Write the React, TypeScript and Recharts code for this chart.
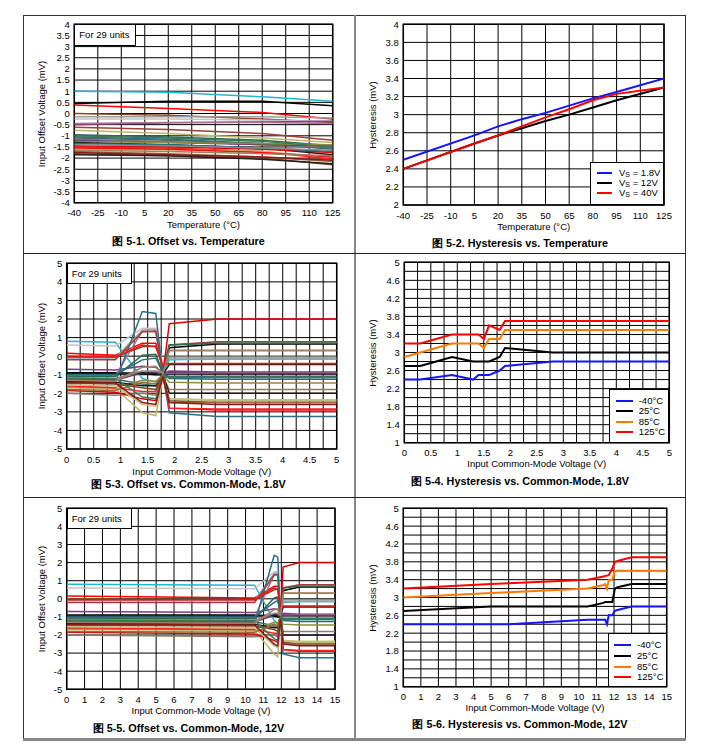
import React from 'react';
import { LineChart, Line, XAxis, YAxis, CartesianGrid, ReferenceArea } from 'recharts';

const FONT = '"Liberation Sans", Arial, Helvetica, sans-serif';

// x points for the 29-unit offset curves
const tempX = [-40, 20, 80, 125];
const cm18X = [0, 0.9, 1.4, 1.65, 1.78, 1.9, 2.8, 5];
const cm12X = [0, 10.5, 11.6, 11.8, 11.95, 12.1, 13, 15];

const unitColors = [
  '#20B8D0', '#000000', '#FF0000', '#8B4A1C', '#9E9E9E', '#C4C4C4', '#7E3B7E', '#B07090',
  '#A0403A', '#BDB76B', '#2E6B4E', '#2A6F8A', '#3D6B6B', '#8C7B6B', '#6B3F6B', '#8C8C3C',
  '#1A1A1A', '#E00000', '#FF2020', '#C8C080', '#7A4A20', '#202020', '#1F6F7F', '#8A8A8A',
  '#F01010', '#9B6A3A', '#3A7A5A', '#8B1A1A', '#A08060',
];

// offset (mV) at tempX, one row per unit
const offsetTemp = [
  [1.0, 0.95, 0.75, 0.55],
  [0.45, 0.55, 0.55, 0.35],
  [0.38, 0.22, 0.05, -0.25],
  [0.0, -0.08, -0.25, -0.4],
  [-0.15, -0.15, -0.15, -0.2],
  [-0.25, -0.25, -0.3, -0.35],
  [-0.5, -0.42, -0.38, -0.35],
  [-0.45, -0.4, -0.4, -0.45],
  [-0.62, -0.72, -0.9, -1.2],
  [-0.75, -0.9, -1.1, -1.3],
  [-0.95, -1.05, -1.2, -1.45],
  [-1.05, -1.15, -1.35, -1.55],
  [-1.1, -1.2, -1.35, -1.6],
  [-1.15, -1.25, -1.4, -1.5],
  [-1.2, -1.3, -1.4, -1.45],
  [-1.25, -1.3, -1.35, -1.4],
  [-1.3, -1.4, -1.55, -1.85],
  [-1.45, -1.5, -1.6, -1.75],
  [-1.5, -1.55, -1.7, -2.05],
  [-1.6, -1.62, -1.7, -1.95],
  [-1.8, -1.9, -2.0, -2.3],
  [-1.85, -1.9, -2.05, -2.25],
  [-1.35, -1.4, -1.55, -1.7],
  [-1.4, -1.45, -1.55, -1.65],
  [-1.55, -1.6, -1.75, -1.95],
  [-1.7, -1.8, -1.95, -2.15],
  [-1.0, -1.1, -1.25, -1.5],
  [-1.75, -1.85, -1.95, -2.1],
  [-1.65, -1.7, -1.8, -1.9],
];

// offset (mV) across the common-mode sweep (cm18X / cm12X), one row per unit
const offsetCm = [
  [0.8, 0.75, -1.2, -1.4, -1.0, -0.2, -0.15, -0.15],
  [-0.9, -0.9, -0.95, -1.0, -1.0, 0.45, 0.65, 0.65],
  [0.15, 0.05, 0.7, 0.7, -0.6, -2.8, -2.9, -2.9],
  [0.0, -0.05, 0.5, 0.55, -0.6, 0.3, 0.3, 0.3],
  [-0.1, -0.1, 1.4, 1.45, -0.7, -0.15, -0.15, -0.15],
  [0.6, 0.55, 1.5, 1.5, -0.5, 0.6, 0.75, 0.75],
  [-0.7, -0.75, -0.55, -0.6, -0.9, -0.8, -0.85, -0.85],
  [-1.05, -1.05, 1.35, 1.3, -0.8, -0.9, -0.9, -0.9],
  [-0.2, -0.2, 1.3, 1.35, -0.9, 0.6, 0.78, 0.78],
  [-1.7, -1.75, -3.05, -3.2, -1.2, -2.3, -2.4, -2.4],
  [-1.1, -1.1, 0.05, 0.1, -0.9, 0.6, 0.7, 0.7],
  [-1.5, -1.4, 2.4, 2.3, -1.0, -3.05, -3.25, -3.25],
  [-1.25, -1.25, -1.5, -1.6, -1.0, -1.1, -1.1, -1.1],
  [-2.0, -2.1, -2.0, -2.1, -1.1, -1.8, -1.8, -1.8],
  [-1.3, -1.3, -0.9, -0.85, -0.95, -0.9, -0.92, -0.92],
  [-1.65, -1.7, -1.3, -1.35, -1.0, -1.4, -1.45, -1.45],
  [-1.35, -1.4, -1.6, -1.6, -1.0, -2.0, -2.0, -2.0],
  [-1.85, -1.95, -2.3, -2.4, -1.0, 1.75, 2.0, 2.0],
  [-1.6, -1.7, -1.9, -1.9, -1.0, -2.8, -2.85, -2.85],
  [-1.55, -1.6, -2.6, -2.7, -1.1, -2.3, -2.35, -2.35],
  [-1.45, -1.5, -1.7, -1.8, -1.0, -2.4, -2.5, -2.5],
  [-0.95, -0.95, -0.9, -0.95, -1.0, -0.45, -0.45, -0.45],
  [-1.0, -1.0, -0.2, -0.1, -0.9, -1.2, -1.25, -1.25],
  [-1.15, -1.2, -0.8, -0.8, -0.9, -0.05, -0.05, -0.05],
  [-0.05, -0.05, 0.6, 0.5, -0.5, -0.4, -0.4, -0.4],
  [-1.8, -1.85, -1.4, -1.5, -1.0, -2.5, -2.5, -2.5],
  [-1.2, -1.2, -2.2, -2.3, -1.1, -1.15, -1.15, -1.15],
  [-1.4, -1.45, -2.5, -2.6, -1.1, -2.5, -2.6, -2.6],
  [-1.3, -1.35, -0.6, -0.55, -0.95, 0.3, 0.3, 0.3],
];

// hysteresis vs temperature
const hystTempX = [-40, 5, 20, 35, 50, 65, 80, 95, 125];
const hystTempVs18 = [2.5, 2.77, 2.87, 2.95, 3.02, 3.1, 3.18, 3.25, 3.4];
const hystTempVs12 = [2.4, 2.68, 2.77, 2.85, 2.93, 3.0, 3.08, 3.16, 3.3];
const hystTempVs40 = [2.4, 2.68, 2.77, 2.87, 2.97, 3.06, 3.16, 3.23, 3.3];

// hysteresis vs common mode, 1.8V
const hyst18X = [0, 0.3, 0.9, 1.3, 1.4, 1.5, 1.6, 1.8, 1.9, 2.8, 5];
const hyst18M40 = [2.4, 2.4, 2.5, 2.4, 2.5, 2.5, 2.5, 2.6, 2.7, 2.8, 2.8];
const hyst18T25 = [2.7, 2.7, 2.9, 2.8, 2.8, 2.8, 2.8, 2.9, 3.1, 3.0, 3.0];
const hyst18T85 = [2.9, 3.0, 3.2, 3.2, 3.2, 3.1, 3.3, 3.3, 3.5, 3.5, 3.5];
const hyst18T125 = [3.2, 3.2, 3.4, 3.4, 3.4, 3.3, 3.6, 3.5, 3.7, 3.7, 3.7];

// hysteresis vs common mode, 12V
const hyst12X = [0, 5, 6, 10.5, 11.4, 11.5, 11.6, 11.7, 11.9, 12.05, 12.2, 13, 15];
const hyst12M40 = [2.4, 2.4, 2.4, 2.5, 2.5, 2.5, 2.4, 2.6, 2.6, 2.7, 2.72, 2.8, 2.8];
const hyst12T25 = [2.7, 2.8, 2.8, 2.8, 2.88, 2.9, 2.9, 2.9, 2.9, 3.2, 3.23, 3.3, 3.3];
const hyst12T85 = [3.0, 3.1, 3.12, 3.2, 3.28, 3.3, 3.2, 3.4, 3.4, 3.6, 3.6, 3.6, 3.6];
const hyst12T125 = [3.2, 3.3, 3.32, 3.4, 3.47, 3.48, 3.49, 3.5, 3.65, 3.8, 3.82, 3.9, 3.9];

// axis ticks
const tempTicks = [-40, -25, -10, 5, 20, 35, 50, 65, 80, 95, 110, 125];
const offTempTicks = [-4, -3.5, -3, -2.5, -2, -1.5, -1, -0.5, 0, 0.5, 1, 1.5, 2, 2.5, 3, 3.5, 4];
const hystTempTicks = [2, 2.2, 2.4, 2.6, 2.8, 3, 3.2, 3.4, 3.6, 3.8, 4];
const offCmTicks = [-5, -4, -3, -2, -1, 0, 1, 2, 3, 4, 5];
const cm18Ticks = [0, 0.25, 0.5, 0.75, 1, 1.25, 1.5, 1.75, 2, 2.25, 2.5, 2.75, 3, 3.25, 3.5, 3.75, 4, 4.25, 4.5, 4.75, 5];
const cm18Labels = [0, 0.5, 1, 1.5, 2, 2.5, 3, 3.5, 4, 4.5, 5];
const cm12Ticks = [0, 1, 2, 3, 4, 5, 6, 7, 8, 9, 10, 11, 12, 13, 14, 15];
const hystCmTicks = [1, 1.2, 1.4, 1.6, 1.8, 2, 2.2, 2.4, 2.6, 2.8, 3, 3.2, 3.4, 3.6, 3.8, 4, 4.2, 4.4, 4.6, 4.8, 5];
const hystCmLabels = [1, 1.4, 1.8, 2.2, 2.6, 3, 3.4, 3.8, 4.2, 4.6, 5];

const BLUE = '#1414FF';
const ORANGE = '#FF7A00';
const RED = '#FF0000';
const BLACK = '#000000';

const FS = 9.5;

type Pt = { x: number; y: number };
type Series = { name: string; color: string; width: number; data: Pt[] };

const pts = (xs: number[], ys: number[]): Pt[] => xs.map((x, i) => ({ x, y: ys[i] }));

const unitSeries = (xs: number[], rows: number[][]): Series[] =>
  rows.map((r, i) => ({ name: `u${i}`, color: unitColors[i], width: 1.5, data: pts(xs, r) }));

const fmt = (labeled?: number[]) => (v: number) => (!labeled || labeled.includes(v) ? String(v) : '');

interface PlotProps {
  cell: number[]; // left, top, width, height (page px)
  plot: number[]; // left, top, right, bottom (page px)
  xDomain: number[];
  xTicks: number[];
  xLabeled?: number[];
  yDomain: number[];
  yTicks: number[];
  yLabeled?: number[];
  series: Series[];
}

function Plot({ cell, plot, xDomain, xTicks, xLabeled, yDomain, yTicks, yLabeled, series }: PlotProps) {
  const [cl, ct, cw, ch] = cell;
  const [pl, pt, pr, pb] = plot;
  const YW = 40;
  const XH = 20;
  const margin = { left: pl - cl - YW, top: pt - ct, right: cl + cw - pr, bottom: ct + ch - pb - XH };
  const tick = { fontSize: FS, fill: '#000', fontFamily: FONT };
  return (
    <div style={{ position: 'absolute', left: cl, top: ct }}>
      <LineChart width={cw} height={ch} margin={margin}>
        <CartesianGrid stroke="#000" strokeWidth={1} />
        <XAxis
          type="number"
          dataKey="x"
          domain={xDomain}
          ticks={xTicks}
          interval={0}
          allowDataOverflow
          tickLine={false}
          axisLine={false}
          height={XH}
          tickSize={5}
          tick={tick}
          tickFormatter={fmt(xLabeled)}
        />
        <YAxis
          type="number"
          domain={yDomain}
          ticks={yTicks}
          interval={0}
          allowDataOverflow
          tickLine={false}
          axisLine={false}
          width={YW}
          tickSize={2}
          tickMargin={2.5}
          tick={tick}
          tickFormatter={fmt(yLabeled)}
        />
        {series.map((s) => (
          <Line
            key={s.name}
            data={s.data}
            dataKey="y"
            type="linear"
            stroke={s.color}
            strokeWidth={s.width}
            dot={false}
            activeDot={false}
            isAnimationActive={false}
          />
        ))}
        <ReferenceArea
          x1={xDomain[0]}
          x2={xDomain[1]}
          y1={yDomain[0]}
          y2={yDomain[1]}
          fill="none"
          stroke="#000"
          strokeWidth={1.5}
        />
      </LineChart>
    </div>
  );
}

function Txt({ x, y, children, size = FS, bold = false, rotate = false }: any) {
  return (
    <div
      style={{
        position: 'absolute',
        left: x,
        top: y,
        transform: `translate(-50%, -50%)${rotate ? ' rotate(-90deg)' : ''}`,
        whiteSpace: 'nowrap',
        fontSize: size,
        fontWeight: bold ? 700 : 400,
        lineHeight: 1,
        color: '#000',
      }}
    >
      {children}
    </div>
  );
}

function UnitsBox({ l, t, r, b }: { l: number; t: number; r: number; b: number }) {
  return (
    <div
      style={{
        position: 'absolute',
        left: l,
        top: t,
        width: r - l,
        height: b - t,
        boxSizing: 'border-box',
        border: '1.5px solid #000',
        background: '#fff',
        fontSize: FS,
        paddingLeft: 4,
        display: 'flex',
        alignItems: 'center',
      }}
    >
      For 29 units
    </div>
  );
}

interface LegendProps {
  box: number[];
  rows: number[];
  lineX: number[];
  textX: number;
  items: { label: React.ReactNode; color: string }[];
}

function LegendBox({ box, rows, lineX, textX, items }: LegendProps) {
  const [l, t, r, b] = box;
  return (
    <div
      style={{
        position: 'absolute',
        left: l,
        top: t,
        width: r - l,
        height: b - t,
        boxSizing: 'border-box',
        border: '1.5px solid #000',
        background: '#fff',
      }}
    >
      {items.map((it, i) => (
        <React.Fragment key={i}>
          <div
            style={{
              position: 'absolute',
              left: lineX[0] - l,
              top: rows[i] - t - 1,
              width: lineX[1] - lineX[0],
              height: 2,
              background: it.color,
            }}
          />
          <div
            style={{
              position: 'absolute',
              left: textX - l,
              top: rows[i] - t,
              transform: 'translateY(-50%)',
              fontSize: FS,
              lineHeight: 1,
              whiteSpace: 'nowrap',
            }}
          >
            {it.label}
          </div>
        </React.Fragment>
      ))}
    </div>
  );
}

const vs = (v: string) => (
  <span>
    V<span style={{ fontSize: 7, position: 'relative', top: 1 }}>S</span> = {v}
  </span>
);

const tempItems = [
  { label: '-40°C', color: BLUE },
  { label: '25°C', color: BLACK },
  { label: '85°C', color: ORANGE },
  { label: '125°C', color: RED },
];

export default function App() {
  const line = (l: number, t: number, w: number, h: number, c: string) => (
    <div style={{ position: 'absolute', left: l, top: t, width: w, height: h, background: c }} />
  );
  return (
    <div
      style={{
        position: 'absolute',
        left: 0,
        top: 0,
        width: 704,
        height: 755,
        background: '#fff',
        fontFamily: FONT,
        overflow: 'hidden',
      }}
    >
      {/* frame */}
      {line(23, 15, 663, 1, '#333')}
      {line(23, 15, 1, 724, '#333')}
      {line(685, 15, 1, 724, '#333')}
      {line(353.5, 15, 2, 724, '#888')}
      {line(23, 253, 663, 1, '#222')}
      {line(23, 497, 663, 1, '#222')}
      {line(23, 738, 663, 3, '#888')}

      {/* 5-1 offset vs temperature */}
      <Plot
        cell={[23, 15, 331, 238]}
        plot={[74.3, 24.3, 332.7, 202.7]}
        xDomain={[-40, 125]}
        xTicks={tempTicks}
        yDomain={[-4, 4]}
        yTicks={offTempTicks}
        series={unitSeries(tempX, offsetTemp)}
      />
      <UnitsBox l={74.3} t={24.3} r={136} b={45.7} />
      <Txt x={203.5} y={225}>Temperature (°C)</Txt>
      <Txt x={41.7} y={113.5} rotate>Input Offset Voltage (mV)</Txt>
      <Txt x={188.5} y={240.7} size={10.8} bold>图 5-1. Offset vs. Temperature</Txt>

      {/* 5-2 hysteresis vs temperature */}
      <Plot
        cell={[354, 15, 332, 238]}
        plot={[403.3, 24.3, 664, 205]}
        xDomain={[-40, 125]}
        xTicks={tempTicks}
        yDomain={[2, 4]}
        yTicks={hystTempTicks}
        series={[
          { name: 'vs18', color: BLUE, width: 2, data: pts(hystTempX, hystTempVs18) },
          { name: 'vs12', color: BLACK, width: 2, data: pts(hystTempX, hystTempVs12) },
          { name: 'vs40', color: RED, width: 2, data: pts(hystTempX, hystTempVs40) },
        ]}
      />
      <LegendBox
        box={[590, 161.7, 664, 205]}
        rows={[171.7, 182, 192.3]}
        lineX={[596, 610.7]}
        textX={618}
        items={[
          { label: vs('1.8V'), color: BLUE },
          { label: vs('12V'), color: BLACK },
          { label: vs('40V'), color: RED },
        ]}
      />
      <Txt x={533.7} y={226.5}>Temperature (°C)</Txt>
      <Txt x={373.3} y={114.7} rotate>Hysteresis (mV)</Txt>
      <Txt x={520} y={242.7} size={10.8} bold>图 5-2. Hysteresis vs. Temperature</Txt>

      {/* 5-3 offset vs common mode, 1.8V */}
      <Plot
        cell={[23, 253, 331, 244]}
        plot={[66.7, 263.3, 336.7, 449]}
        xDomain={[0, 5]}
        xTicks={cm18Ticks}
        xLabeled={cm18Labels}
        yDomain={[-5, 5]}
        yTicks={offCmTicks}
        series={unitSeries(cm18X, offsetCm)}
      />
      <UnitsBox l={66.7} t={263.3} r={131.7} b={284.3} />
      <Txt x={201.7} y={471.7}>Input Common-Mode Voltage (V)</Txt>
      <Txt x={41.7} y={356} rotate>Input Offset Voltage (mV)</Txt>
      <Txt x={188.5} y={484.3} size={10.8} bold>图 5-3. Offset vs. Common-Mode, 1.8V</Txt>

      {/* 5-4 hysteresis vs common mode, 1.8V */}
      <Plot
        cell={[354, 253, 332, 244]}
        plot={[404.3, 262.3, 669.3, 442.7]}
        xDomain={[0, 5]}
        xTicks={cm18Ticks}
        xLabeled={cm18Labels}
        yDomain={[1, 5]}
        yTicks={hystCmTicks}
        yLabeled={hystCmLabels}
        series={[
          { name: 'm40', color: BLUE, width: 2, data: pts(hyst18X, hyst18M40) },
          { name: 't25', color: BLACK, width: 2, data: pts(hyst18X, hyst18T25) },
          { name: 't85', color: ORANGE, width: 2, data: pts(hyst18X, hyst18T85) },
          { name: 't125', color: RED, width: 2, data: pts(hyst18X, hyst18T125) },
        ]}
      />
      <LegendBox
        box={[609.3, 389, 669.3, 442.7]}
        rows={[399.7, 410.3, 420.7, 431]}
        lineX={[615, 631.7]}
        textX={637.7}
        items={tempItems}
      />
      <Txt x={536.8} y={464.3}>Input Common-Mode Voltage (V)</Txt>
      <Txt x={373.3} y={352.5} rotate>Hysteresis (mV)</Txt>
      <Txt x={520} y={481} size={10.8} bold>图 5-4. Hysteresis vs. Common-Mode, 1.8V</Txt>

      {/* 5-5 offset vs common mode, 12V */}
      <Plot
        cell={[23, 497, 331, 241]}
        plot={[66.7, 508.3, 335, 689.3]}
        xDomain={[0, 15]}
        xTicks={cm12Ticks}
        yDomain={[-5, 5]}
        yTicks={offCmTicks}
        series={unitSeries(cm12X, offsetCm)}
      />
      <UnitsBox l={66.7} t={508.3} r={131.7} b={529.3} />
      <Txt x={201} y={710.7}>Input Common-Mode Voltage (V)</Txt>
      <Txt x={41.7} y={599} rotate>Input Offset Voltage (mV)</Txt>
      <Txt x={188.5} y={727.7} size={10.8} bold>图 5-5. Offset vs. Common-Mode, 12V</Txt>

      {/* 5-6 hysteresis vs common mode, 12V */}
      <Plot
        cell={[354, 497, 332, 241]}
        plot={[403.3, 508.3, 666.7, 686.7]}
        xDomain={[0, 15]}
        xTicks={cm12Ticks}
        yDomain={[1, 5]}
        yTicks={hystCmTicks}
        yLabeled={hystCmLabels}
        series={[
          { name: 'm40', color: BLUE, width: 2, data: pts(hyst12X, hyst12M40) },
          { name: 't25', color: BLACK, width: 2, data: pts(hyst12X, hyst12T25) },
          { name: 't85', color: ORANGE, width: 2, data: pts(hyst12X, hyst12T85) },
          { name: 't125', color: RED, width: 2, data: pts(hyst12X, hyst12T125) },
        ]}
      />
      <LegendBox
        box={[607.7, 633.3, 666.7, 686.7]}
        rows={[644.3, 655, 665.7, 676.3]}
        lineX={[613.3, 630]}
        textX={636}
        items={tempItems}
      />
      <Txt x={535} y={708.3}>Input Common-Mode Voltage (V)</Txt>
      <Txt x={373.3} y={597.5} rotate>Hysteresis (mV)</Txt>
      <Txt x={520} y={724.3} size={10.8} bold>图 5-6. Hysteresis vs. Common-Mode, 12V</Txt>
    </div>
  );
}
